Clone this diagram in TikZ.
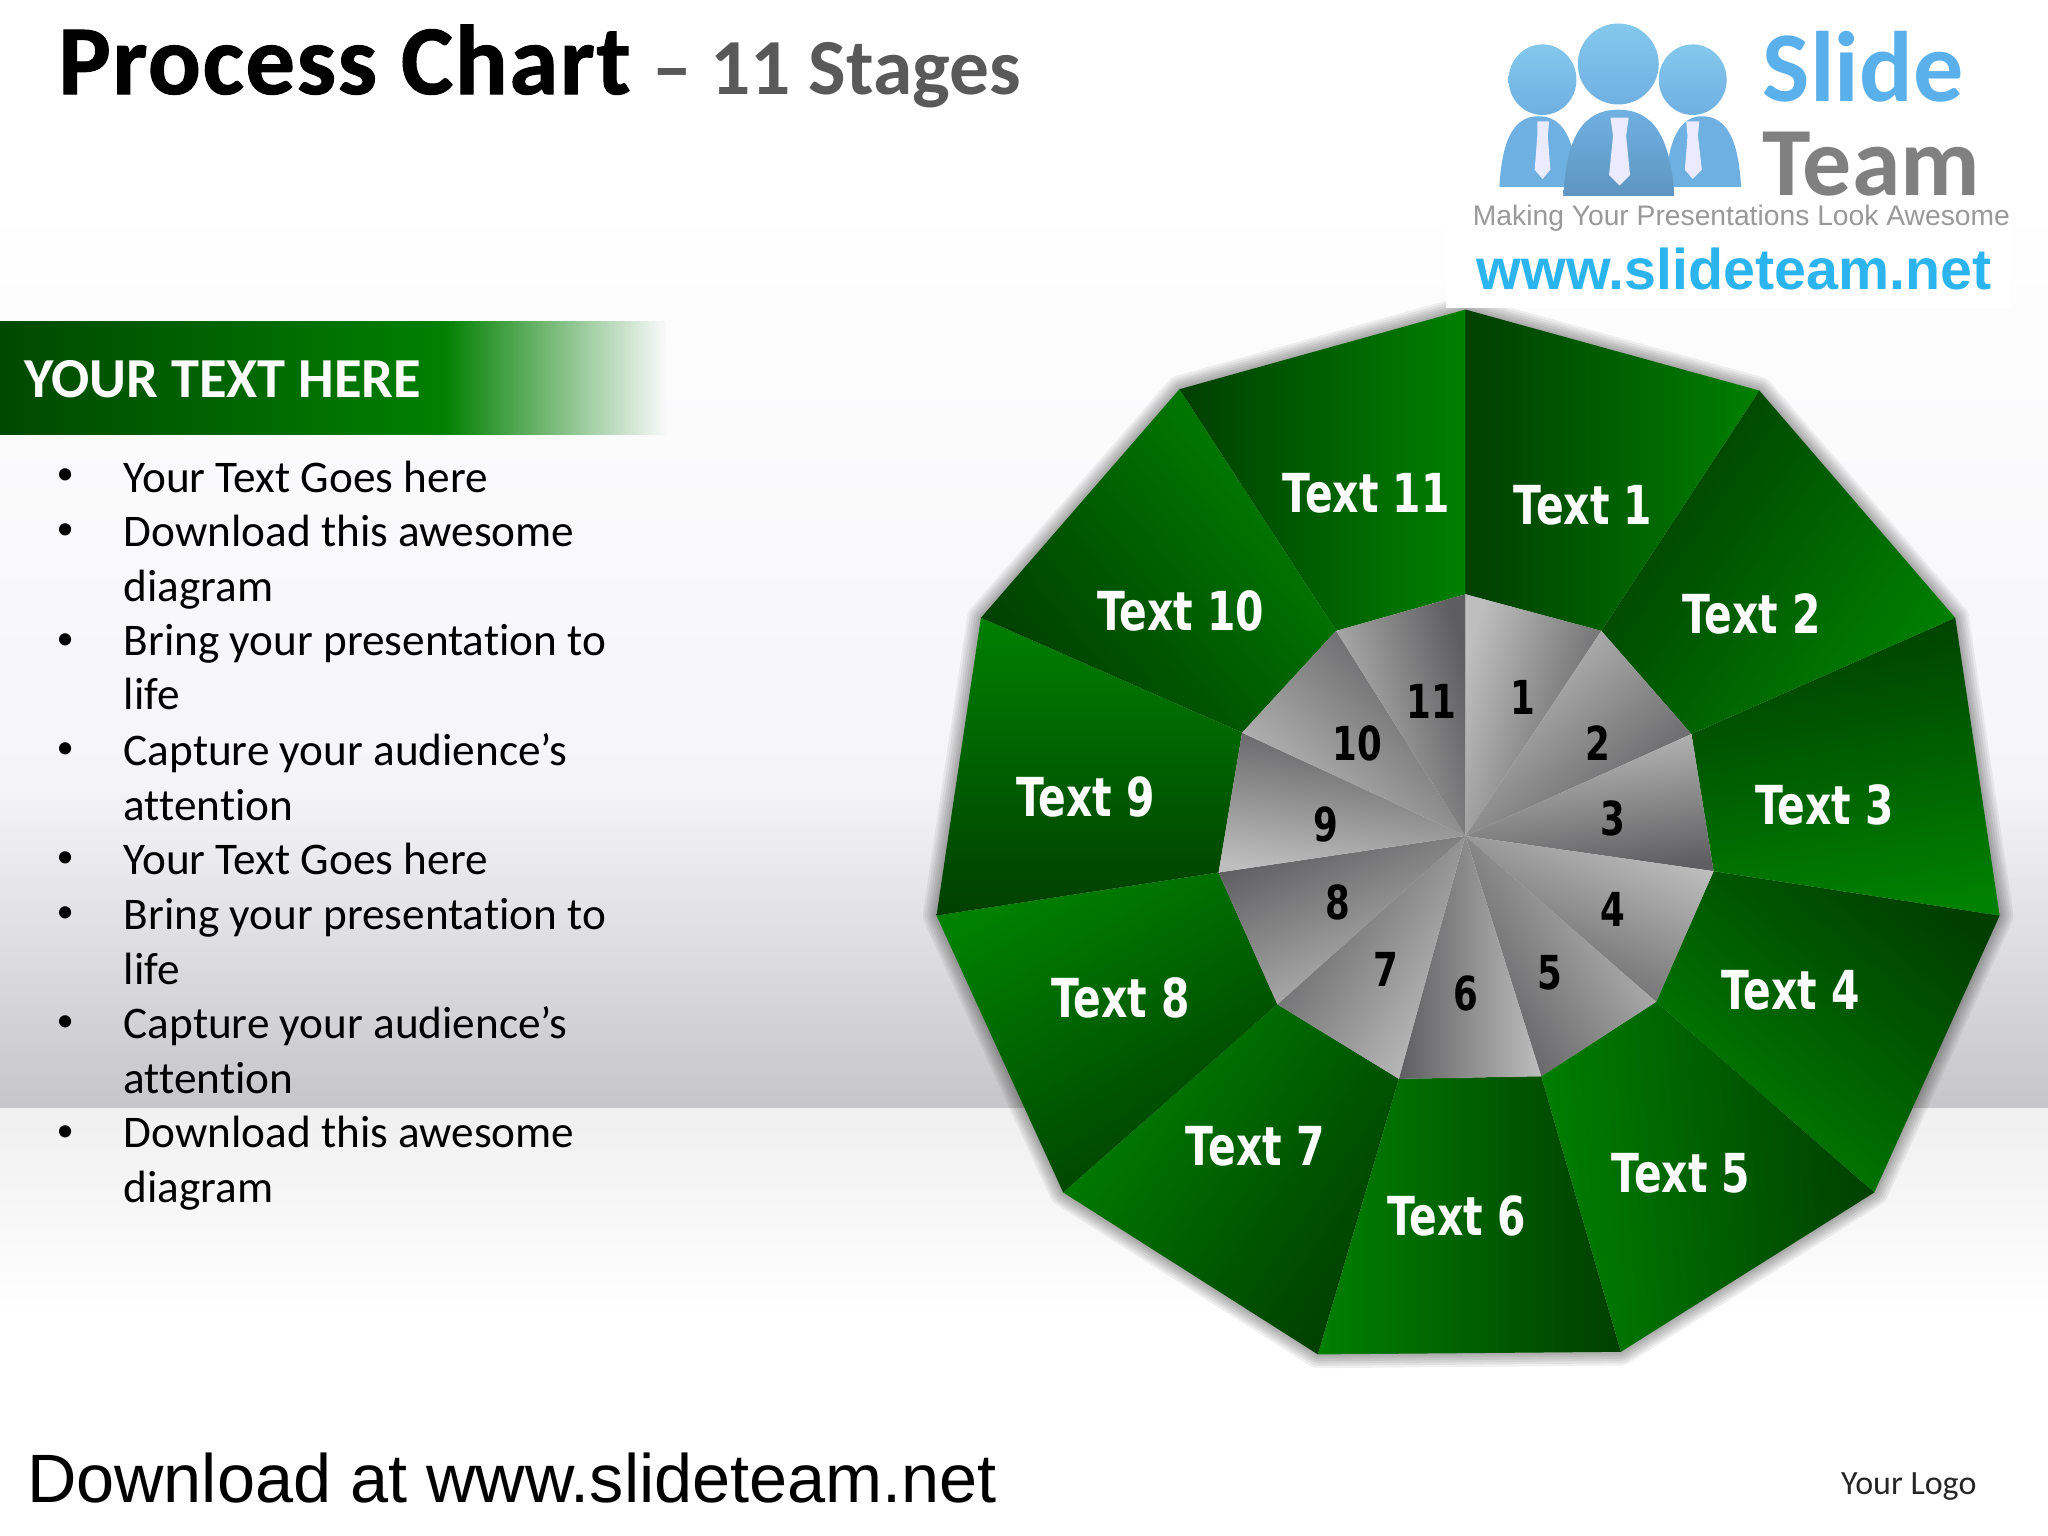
\documentclass[tikz,border=0pt]{standalone}
\usepackage{fontspec}
\setmainfont{Carlito}[Ligatures=NoCommon]
\newfontfamily\chartfont[FakeStretch=0.76]{DejaVu Sans}
\newfontfamily\footfont{Liberation Sans}
\usepackage{tikz}
\definecolor{gdark}{HTML}{003F00}
\definecolor{glight}{HTML}{008000}
\definecolor{wdark}{HTML}{5E5E60}
\definecolor{wlight}{HTML}{BEBEBE}
\definecolor{headblue}{HTML}{84C8EC}
\definecolor{bodyblue}{HTML}{6FB0E2}
\definecolor{urlblue}{HTML}{2BB4EE}
\definecolor{slideblue}{HTML}{5AB0EA}
\definecolor{paleback}{HTML}{F5F5F8}
\definecolor{greyback}{HTML}{C6C6C8}
\tikzset{
  outerseg/.style={bottom color=gdark, top color=glight, shading angle=#1},
  innerseg/.style={bottom color=wlight, top color=wdark, shading angle=#1},
  seglabel/.style={text=white, xshift=.3pt, font=\chartfont\bfseries\fontsize{11.7}{14}\selectfont},
  numlabel/.style={text=black, font=\chartfont\bfseries\fontsize{10.2}{12}\selectfont},
  rimshadow/.style={draw=black, line join=round, opacity=.06, line width=#1},
  listitem/.style={anchor=north west, align=left, inner sep=0pt, font=\fontsize{9.85}{11.9}\selectfont},
  dotmark/.style={anchor=center, inner sep=0pt, font=\fontsize{7.5}{9}\selectfont}
}
\begin{document}
\begin{tikzpicture}[x=0.01cm,y=-0.01cm]
\useasboundingbox (0,0) rectangle (1568,1176);
\fill[white] (0,0) rectangle (1568,1176);
\shade[top color=white, bottom color=paleback] (0,150) rectangle (1568,600);
\shade[top color=paleback, bottom color=greyback] (0,600) rectangle (1568,849);
\shade[top color=black!6, bottom color=white] (0,849) rectangle (1568,1010);

\shade[left color=gdark!85!glight, right color=glight] (0,246) rectangle (340,333);
\shade[left color=glight, right color=paleback!60!white] (340,246) rectangle (510,333);
\node[anchor=base west, inner sep=0pt, text=white, font=\bfseries\fontsize{12.3}{14}\selectfont] (head) at (18,304) {YOUR TEXT HERE};

\node[listitem] (li1) at (94,352) {Your Text Goes here};
\node[listitem] (li2) at (94,394) {Download this awesome\\diagram};
\node[listitem] (li3) at (94,477) {Bring your presentation to\\life};
\node[listitem] (li4) at (94,561) {Capture your audience’s\\attention};
\node[listitem] (li5) at (94,645) {Your Text Goes here};
\node[listitem] (li6) at (94,687) {Bring your presentation to\\life};
\node[listitem] (li7) at (94,770) {Capture your audience’s\\attention};
\node[listitem] (li8) at (94,854) {Download this awesome\\diagram};
\node[dotmark] (d1) at (50,365) {•};
\node[dotmark] (d2) at (50,407) {•};
\node[dotmark] (d3) at (50,491) {•};
\node[dotmark] (d4) at (50,575) {•};
\node[dotmark] (d5) at (50,658) {•};
\node[dotmark] (d6) at (50,700) {•};
\node[dotmark] (d7) at (50,784) {•};
\node[dotmark] (d8) at (50,868) {•};

\coordinate (c) at (1122,640);
\coordinate (o0) at (1122,237);
\coordinate (o1) at (1347,299);
\coordinate (o2) at (1497,473);
\coordinate (o3) at (1531,701);
\coordinate (o4) at (1435,913);
\coordinate (o5) at (1241,1035);
\coordinate (o6) at (1009,1037);
\coordinate (o7) at (814,913);
\coordinate (o8) at (717,701);
\coordinate (o9) at (751,473);
\coordinate (o10) at (903,298);
\coordinate (i0) at (1122,455);
\coordinate (i1) at (1226,483);
\coordinate (i2) at (1295,562);
\coordinate (i3) at (1312,667);
\coordinate (i4) at (1268,767);
\coordinate (i5) at (1180,824);
\coordinate (i6) at (1071,826);
\coordinate (i7) at (978,769);
\coordinate (i8) at (933,668);
\coordinate (i9) at (951,561);
\coordinate (i10) at (1023,483);

\def\outerrim{(o0) -- (o1) -- (o2) -- (o3) -- (o4) -- (o5) -- (o6) -- (o7) -- (o8) -- (o9) -- (o10) -- cycle}
\draw[rimshadow=6pt, yshift=2pt] \outerrim;
\draw[rimshadow=5pt, yshift=2pt] \outerrim;
\draw[rimshadow=4pt, yshift=2pt] \outerrim;
\draw[rimshadow=3pt, yshift=2pt] \outerrim;
\draw[rimshadow=2pt, yshift=2pt] \outerrim;
\draw[rimshadow=1pt, yshift=2pt] \outerrim;

\shade[outerseg=-90] (o0) -- (o1) -- (i1) -- (i0) -- cycle;
\shade[outerseg=-125] (o1) -- (o2) -- (i2) -- (i1) -- cycle;
\shade[outerseg=-170] (o2) -- (o3) -- (i3) -- (i2) -- cycle;
\shade[outerseg=140] (o3) -- (o4) -- (i4) -- (i3) -- cycle;
\shade[outerseg=95] (o4) -- (o5) -- (i5) -- (i4) -- cycle;
\shade[outerseg=90] (o5) -- (o6) -- (i6) -- (i5) -- cycle;
\shade[outerseg=55] (o6) -- (o7) -- (i7) -- (i6) -- cycle;
\shade[outerseg=30] (o7) -- (o8) -- (i8) -- (i7) -- cycle;
\shade[outerseg=0] (o8) -- (o9) -- (i9) -- (i8) -- cycle;
\shade[outerseg=-50] (o9) -- (o10) -- (i10) -- (i9) -- cycle;
\shade[outerseg=-90] (o10) -- (o0) -- (i0) -- (i10) -- cycle;

\shade[innerseg=-106] (c) -- (i0) -- (i1) -- cycle;
\shade[innerseg=-139] (c) -- (i1) -- (i2) -- cycle;
\shade[innerseg=-172] (c) -- (i2) -- (i3) -- cycle;
\shade[innerseg=155] (c) -- (i3) -- (i4) -- cycle;
\shade[innerseg=122] (c) -- (i4) -- (i5) -- cycle;
\shade[innerseg=90] (c) -- (i5) -- (i6) -- cycle;
\shade[innerseg=57] (c) -- (i6) -- (i7) -- cycle;
\shade[innerseg=24] (c) -- (i7) -- (i8) -- cycle;
\shade[innerseg=-8] (c) -- (i8) -- (i9) -- cycle;
\shade[innerseg=-41] (c) -- (i9) -- (i10) -- cycle;
\shade[innerseg=-74] (c) -- (i10) -- (i0) -- cycle;

\node[seglabel] (t1) at (1211,387) {Text 1};
\node[seglabel] (t2) at (1340,470) {Text 2};
\node[seglabel] (t3) at (1396,616) {Text 3};
\node[seglabel] (t4) at (1370,758) {Text 4};
\node[seglabel] (t5) at (1286,898) {Text 5};
\node[seglabel] (t6) at (1114,931) {Text 6};
\node[seglabel] (t7) at (960,878) {Text 7};
\node[seglabel] (t8) at (857,764) {Text 8};
\node[seglabel] (t9) at (830,610) {Text 9};
\node[seglabel] (t10) at (903,468) {Text 10};
\node[seglabel] (t11) at (1045,378) {Text 11};

\node[numlabel] (n1) at (1166,534) {1};
\node[numlabel] (n2) at (1223,569) {2};
\node[numlabel] (n3) at (1235,627) {3};
\node[numlabel] (n4) at (1235,696) {4};
\node[numlabel] (n5) at (1187,745) {5};
\node[numlabel] (n6) at (1122,761) {6};
\node[numlabel] (n7) at (1061,742) {7};
\node[numlabel] (n8) at (1024,691) {8};
\node[numlabel] (n9) at (1015,631) {9};
\node[numlabel] (n10) at (1039,569) {10};
\node[numlabel] (n11) at (1096,537) {11};

\fill[white] (1107,0) rectangle (1540,236);
\shade[top color=headblue, bottom color=bodyblue] (1181,61) ellipse (26 and 27);
\shade[top color=headblue, bottom color=bodyblue] (1296,61) ellipse (26 and 27);
\shade[top color=headblue, bottom color=bodyblue] (1239,49) ellipse (31 and 31);
\fill[bodyblue] (1148,143) .. controls (1150,105) and (1160,89) .. (1178,89) .. controls (1196,89) and (1206,105) .. (1208,143) -- cycle;
\fill[bodyblue] (1275,143) .. controls (1277,105) and (1287,89) .. (1303,89) .. controls (1321,89) and (1331,105) .. (1333,143) -- cycle;
\shade[top color=bodyblue, bottom color=bodyblue!85!black] (1197,150) .. controls (1199,105) and (1212,84) .. (1239,84) .. controls (1266,84) and (1279,105) .. (1282,150) -- cycle;
\fill[white!92!blue] (1233,90) -- (1247,90) -- (1245,104) -- (1248,134) -- (1240,142) -- (1232,134) -- (1235,104) -- cycle;
\fill[white!92!blue] (1177,93) -- (1186,93) -- (1185,104) -- (1187,130) -- (1181,137) -- (1175,130) -- (1177,104) -- cycle;
\fill[white!92!blue] (1291,93) -- (1301,93) -- (1300,104) -- (1303,130) -- (1296,137) -- (1290,130) -- (1292,104) -- cycle;
\node[anchor=base west, inner sep=0pt, text=slideblue, font=\bfseries\fontsize{21.8}{26}\selectfont] (brand1) at (1349,78) {Slide};
\node[anchor=base west, inner sep=0pt, text=black!50, font=\bfseries\fontsize{21.3}{26}\selectfont] (brand2) at (1349,150) {Team};
\node[anchor=base west, inner sep=0pt, text=black!40, font=\footfont\fontsize{6.15}{8}\selectfont] (brand3) at (1127,173) {Making Your Presentations Look Awesome};
\node[anchor=base west, inner sep=0pt, text=urlblue, font=\footfont\bfseries\fontsize{12.5}{14}\selectfont] (brand4) at (1130,222) {www.slideteam.net};

\node[anchor=base west, inner sep=0pt, font=\bfseries\addfontfeature{LetterSpace=1.6,FakeBold=1}\fontsize{21.5}{24}\selectfont] (title) at (44,72) {Process Chart};
\node[anchor=base west, inner sep=0pt, text=black!65, font=\bfseries\fontsize{17.3}{20}\selectfont] (subtitle) at (499,72) {– 11 Stages};
\node[anchor=base west, inner sep=0pt, font=\footfont\fontsize{14.9}{18}\selectfont] (foot) at (20,1150) {Download at www.slideteam.net};
\node[anchor=base west, inner sep=0pt, text=black!85, font=\fontsize{7.4}{10}\selectfont] (logo) at (1409,1144) {Your Logo};
\end{tikzpicture}
\end{document}
